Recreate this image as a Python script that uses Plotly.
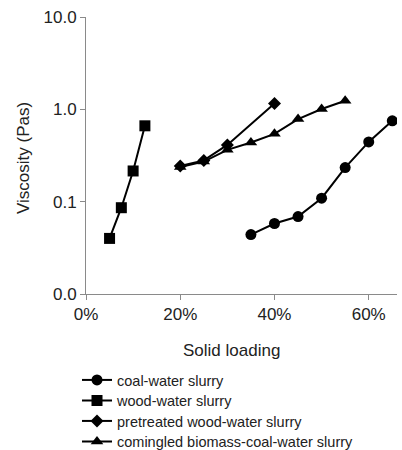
import plotly.graph_objects as go

coal_x = [0.35, 0.40, 0.45, 0.50, 0.55, 0.60, 0.65]
coal_y = [0.044, 0.058, 0.069, 0.109, 0.234, 0.444, 0.75]

wood_x = [0.05, 0.075, 0.10, 0.125]
wood_y = [0.040, 0.086, 0.215, 0.663]

pre_x = [0.20, 0.25, 0.30, 0.40]
pre_y = [0.244, 0.28, 0.412, 1.16]

com_x = [0.20, 0.25, 0.30, 0.35, 0.40, 0.45, 0.50, 0.55]
com_y = [0.238, 0.272, 0.364, 0.438, 0.543, 0.785, 1.007, 1.24]

y_tickvals = [0.01, 0.1, 1, 10]
y_ticktext = ["0.0", "0.1", "1.0", "10.0"]
x_tickvals = [0, 0.2, 0.4, 0.6]

x_title = "Solid loading"
y_title = "Viscosity (Pas)"

axis_color = "#8a8a8a"
plot_top, plot_bottom, plot_left, plot_right = 17, 294, 86, 397
ph = plot_bottom - plot_top
pw = plot_right - plot_left

fig = go.Figure()
series = [
    ("coal-water slurry", coal_x, coal_y, "circle", 11),
    ("wood-water slurry", wood_x, wood_y, "square", 11),
    ("pretreated wood-water slurry", pre_x, pre_y, "diamond", 10),
    ("comingled biomass-coal-water slurry", com_x, com_y, "triangle-up", 11),
]
legend_names = ["legend", "legend2", "legend3", "legend4"]
row_centers = [379, 399.5, 420, 440.5]
legend_layout = {}
for i, (name, x, y, sym, sz) in enumerate(series):
    fig.add_trace(go.Scatter(
        x=x, y=y, name=name, mode="lines+markers",
        line=dict(color="black", width=2),
        marker=dict(symbol=sym, size=sz, color="black"),
        legend=legend_names[i],
    ))
    legend_layout[legend_names[i]] = dict(
        x=(77 - plot_left) / pw, y=(plot_bottom - (row_centers[i] - 15)) / ph,
        xanchor="left", yanchor="top",
        font=dict(size=14.5, color="#222"),
        bgcolor="rgba(0,0,0,0)", itemwidth=30,
    )

fig.update_layout(
    width=402, height=450,
    margin=dict(l=plot_left, r=402 - plot_right, t=plot_top, b=450 - plot_bottom, autoexpand=False),
    paper_bgcolor="white", plot_bgcolor="white",
    font=dict(family="Liberation Sans, Arial, sans-serif", color="#222", size=16),
    showlegend=True,
    **legend_layout,
    annotations=[
        dict(text=x_title, xref="paper", yref="paper",
             x=(231 - plot_left) / pw, y=(plot_bottom - 350) / ph,
             xanchor="center", yanchor="middle", showarrow=False,
             font=dict(size=17)),
        dict(text=y_title, xref="paper", yref="paper", textangle=-90,
             x=(23 - plot_left) / pw, y=(plot_bottom - 158) / ph,
             xanchor="center", yanchor="middle", showarrow=False,
             font=dict(size=17)),
    ],
)
fig.update_xaxes(
    range=[0, 0.66], tickvals=x_tickvals, tickformat=".0%",
    showgrid=False, zeroline=False, showline=True, linecolor=axis_color, linewidth=1,
    ticks="outside", ticklen=5, tickcolor=axis_color,
    tickfont=dict(size=17),
)
fig.update_yaxes(
    type="log", range=[-2, 1], tickvals=y_tickvals, ticktext=y_ticktext,
    showgrid=False, zeroline=False, showline=True, linecolor=axis_color, linewidth=1,
    ticks="outside", ticklen=5, tickcolor=axis_color,
    tickfont=dict(size=17),
)

fig.write_html("out.html")
